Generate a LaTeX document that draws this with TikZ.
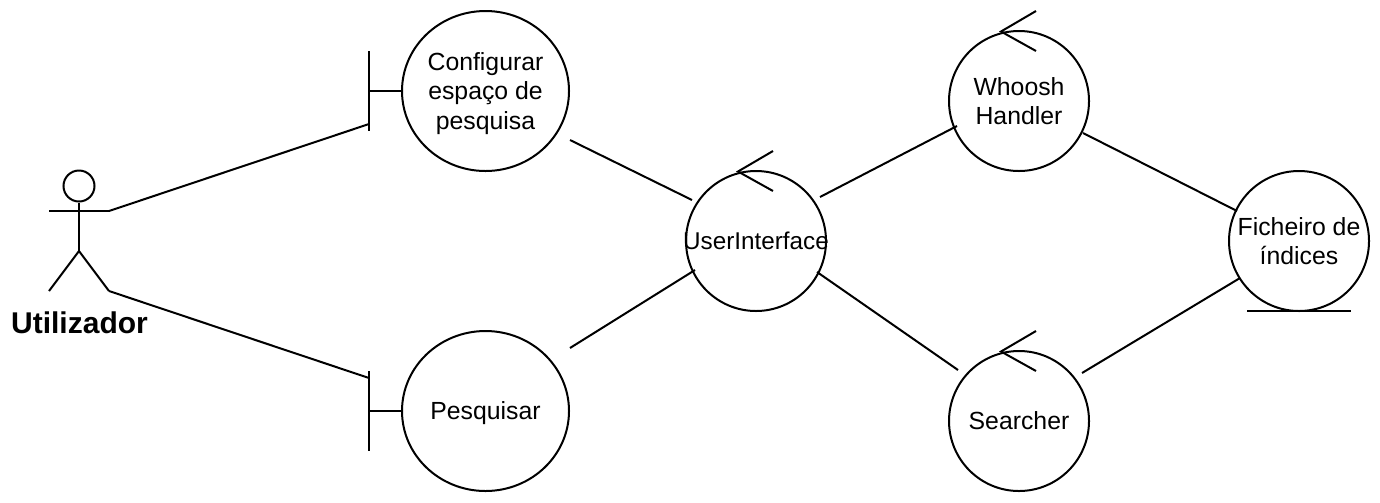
\documentclass[tikz,border=0pt]{standalone}
\usepackage{fontspec}
\usetikzlibrary{shapes.geometric}
\setmainfont{Liberation Sans}
\newcommand{\px}{0.0264583cm}
\newcommand{\robfont}{\fontsize{18.6bp}{21.8bp}\selectfont}
\tikzset{x=\px,y=-\px,
  rob/.style={circle,draw,line width=1.5bp,minimum size=#1*\px,inner sep=0pt,align=center,font=\robfont},
  bigrob/.style={ellipse,draw,line width=1.5bp,minimum width=167*\px,minimum height=160*\px,inner sep=0pt,align=center,font=\robfont,text depth=0pt},
  lnk/.style={draw,line width=1.5bp},
}
\begin{document}
\begin{tikzpicture}
\useasboundingbox (0,0) rectangle (1380,502);
% robustness nodes
\node[bigrob] (conf) at (485.5,91) {Configurar\\espaço de\\pesquisa};
\node[bigrob] (pesq) at (485.5,411) {Pesquisar};
\node[rob=140] (ui) at (756,241) {};
\node[font=\fontsize{18.2bp}{21.8bp}\selectfont] (uit) at (756,241) {UserInterface};
\node[rob=140] (whoosh) at (1019,101) {Whoosh\\Handler};
\node[rob=140] (search) at (1019,421) {Searcher};
\node[rob=140] (fich) at (1299,241) {Ficheiro de\\índices};
% boundary bars
\coordinate (b1t) at (369,51); \coordinate (b1b) at (369,131); \coordinate (b1m) at (369,91);
\coordinate (b2t) at (369,371); \coordinate (b2b) at (369,451); \coordinate (b2m) at (369,411);
\draw[lnk] (b1t) -- (b1b);
\draw[lnk] (b1m) -- (conf.west);
\draw[lnk] (b2t) -- (b2b);
\draw[lnk] (b2m) -- (pesq.west);
% control arrows
\coordinate (ua) at (773,151); \coordinate (ub) at (738,171.5); \coordinate (uc) at (773,191);
\draw[lnk] (ua) -- (ub) -- (uc);
\coordinate (wa) at (1036,11); \coordinate (wb) at (1001,31.5); \coordinate (wc) at (1036,51);
\draw[lnk] (wa) -- (wb) -- (wc);
\coordinate (sa) at (1036,331); \coordinate (sb) at (1001,351.5); \coordinate (sc) at (1036,371);
\draw[lnk] (sa) -- (sb) -- (sc);
% entity base
\coordinate (e1) at (1247,311); \coordinate (e2) at (1351,311);
\draw[lnk] (e1) -- (e2);
% actor
\node[circle,draw,line width=1.5bp,minimum size=31*\px,inner sep=0pt] (head) at (79,186) {};
\coordinate (hip) at (79,251); \coordinate (al) at (49,211); \coordinate (ar) at (109,211);
\coordinate (ll) at (49,291); \coordinate (lr) at (109,291);
\draw[lnk] (head.south) -- (hip);
\draw[lnk] (al) -- (ar);
\draw[lnk] (ll) -- (hip) -- (lr);
\node[font=\bfseries\fontsize{22.5bp}{24bp}\selectfont] (actor) at (79.5,323) {Utilizador};
% connectors
\coordinate (aup) at (369,124); \coordinate (alow) at (369,378);
\draw[lnk] (ar) -- (aup);
\draw[lnk] (lr) -- (alow);
\draw[lnk] ([shift={(84.5,49)}]conf.center) -- ([shift={(-64,-41)}]ui.center);
\draw[lnk] ([shift={(84.5,-63)}]pesq.center) -- ([shift={(-61,29)}]ui.center);
\draw[lnk] ([shift={(64,-44)}]ui.center) -- ([shift={(-62,25)}]whoosh.center);
\draw[lnk] ([shift={(61,31)}]ui.center) -- ([shift={(-61,-51)}]search.center);
\draw[lnk] ([shift={(64,32)}]whoosh.center) -- ([shift={(-62,-30)}]fich.center);
\draw[lnk] ([shift={(63,-48)}]search.center) -- ([shift={(-59,37)}]fich.center);
\end{tikzpicture}
\end{document}
